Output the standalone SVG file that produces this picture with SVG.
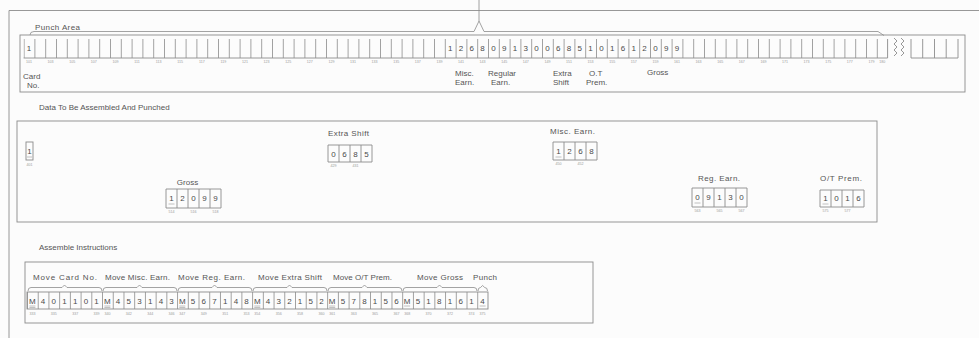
<svg xmlns="http://www.w3.org/2000/svg" width="979" height="338" viewBox="0 0 979 338">
<style>
.ln{fill:none;stroke:#8c8c8c;stroke-width:0.9}
.lt{fill:none;stroke:#a8a8a8;stroke-width:0.7}
.t{font-family:"Liberation Sans",Arial,sans-serif;fill:#555;font-size:8px}
.d{font-family:"Liberation Sans",Arial,sans-serif;fill:#4a4a4a;font-size:8px;text-anchor:middle}
.s{font-family:"Liberation Sans",Arial,sans-serif;fill:#9a9a9a;font-size:3.6px;text-anchor:middle}
.br{fill:none;stroke:#8c8c8c;stroke-width:0.8}
</style>
<defs>
<pattern id="pc" patternUnits="userSpaceOnUse" x="23.6" y="39" width="10.8" height="19">
<line x1="0.4" y1="0" x2="0.4" y2="19" stroke="#8c8c8c" stroke-width="0.9"/>
</pattern>
<pattern id="ic" patternUnits="userSpaceOnUse" x="27" y="292" width="10.72" height="17">
<line x1="0.4" y1="0" x2="0.4" y2="17" stroke="#8c8c8c" stroke-width="0.9"/>
</pattern>
</defs>
<rect width="979" height="338" fill="#fcfcfc"/>

<g id="frame">
<path class="ln" d="M9,10.5 H979 M9,10.5 V338"/>
</g>

<g id="punch-area">
<text class="t" x="35" y="30" textLength="45">Punch Area</text>
<rect class="ln" x="20" y="35" width="945" height="57"/>
<rect x="23.6" y="39" width="864" height="19" fill="url(#pc)"/>
<path class="ln" d="M887.6,39 V58 M23.6,58 H887.6"/>
<path class="ln" d="M894,38 l3,3 l-3,3 l3,3 l-3,3 l3,3 l-3,3 M901,38 l3,3 l-3,3 l3,3 l-3,3 l3,3 l-3,3"/>
<path class="ln" d="M911,39 V58 H958 V39 M922.7,39 V58 M934.5,39 V58 M946.2,39 V58"/>
<text class="d" x="29" y="51">1</text>
<text class="d" x="450.2 461 471.8 482.6 493.4 504.2 515 525.8 536.6 547.4 558.2 569 579.8 590.6 601.4 612.2 623 633.8 644.6 655.4 666.2 677" y="51">1268091300685101612099</text>
<text class="s" y="63"><tspan x="29">101</tspan><tspan x="50.6">103</tspan><tspan x="72.2">105</tspan><tspan x="93.8">107</tspan><tspan x="115.4">109</tspan><tspan x="137">111</tspan><tspan x="158.6">113</tspan><tspan x="180.2">115</tspan><tspan x="201.8">117</tspan><tspan x="223.4">119</tspan><tspan x="245">121</tspan><tspan x="266.6">123</tspan><tspan x="288.2">125</tspan><tspan x="309.8">127</tspan><tspan x="331.4">129</tspan><tspan x="353">131</tspan><tspan x="374.6">133</tspan><tspan x="396.2">135</tspan><tspan x="417.8">137</tspan><tspan x="439.4">139</tspan><tspan x="461">141</tspan><tspan x="482.6">143</tspan><tspan x="504.2">145</tspan><tspan x="525.8">147</tspan><tspan x="547.4">149</tspan><tspan x="569">151</tspan><tspan x="590.6">153</tspan><tspan x="612.2">155</tspan><tspan x="633.8">157</tspan><tspan x="655.4">159</tspan><tspan x="677">161</tspan><tspan x="698.6">163</tspan><tspan x="720.2">165</tspan><tspan x="741.8">167</tspan><tspan x="763.4">169</tspan><tspan x="785">171</tspan><tspan x="806.6">173</tspan><tspan x="828.2">175</tspan><tspan x="849.8">177</tspan><tspan x="871.4">179</tspan><tspan x="882.2">180</tspan></text>
<text class="t" x="23" y="79" font-size="7">Card</text>
<text class="t" x="27" y="88" font-size="7">No.</text>
<text class="t" x="455" y="76" font-size="7">Misc.</text>
<text class="t" x="455" y="85" font-size="7">Earn.</text>
<text class="t" x="488" y="76" font-size="7">Regular</text>
<text class="t" x="491" y="85" font-size="7">Earn.</text>
<text class="t" x="553" y="76" font-size="7">Extra</text>
<text class="t" x="553" y="85" font-size="7">Shift</text>
<text class="t" x="589" y="76" font-size="7">O.T</text>
<text class="t" x="586" y="85" font-size="7">Prem.</text>
<text class="t" x="647" y="75" font-size="7">Gross</text>
</g>

<g id="data-section">
<text class="t" x="39" y="110" font-size="7">Data To Be Assembled And Punched</text>
<rect class="ln" x="17" y="121" width="860" height="101"/>
</g>

<g id="data-card-no">
<rect class="ln" x="26" y="142" width="7" height="18"/>
<text class="d" x="29.5" y="154">1</text>
<path class="lt" d="M27,157 H32"/>
<text class="s" x="29.5" y="166">401</text>
</g>

<g id="data-extra-shift">
<text class="t" x="328" y="136" textLength="41" font-size="7">Extra Shift</text>
<path class="ln" d="M328,145 H372 V162 H328 Z M339,145 V162 M350,145 V162 M361,145 V162"/>
<text class="d" x="333.5 344.5 355.5 366.5" y="157">0685</text>
<text class="s" y="167"><tspan x="333.5">429</tspan><tspan x="355.5">431</tspan></text>
</g>

<g id="data-misc-earn">
<text class="t" x="550" y="134" textLength="45" font-size="7">Misc. Earn.</text>
<path class="ln" d="M553,142 H597 V160 H553 Z M564,142 V160 M575,142 V160 M586,142 V160"/>
<text class="d" x="558.5 569.5 580.5 591.5" y="154">1268</text>
<path class="lt" d="M555.5,157 H561.5"/>
<text class="s" y="165"><tspan x="558.5">450</tspan><tspan x="580.5">452</tspan></text>
</g>

<g id="data-gross">
<text class="t" x="187.5" y="185" font-size="7" text-anchor="middle">Gross</text>
<path class="ln" d="M166,189 H221 V208 H166 Z M177,189 V208 M188,189 V208 M199,189 V208 M210,189 V208"/>
<text class="d" x="171.5 182.5 193.5 204.5 215.5" y="201">12099</text>
<path class="lt" d="M168.5,204 H174.5"/>
<text class="s" y="213"><tspan x="171.5">514</tspan><tspan x="193.5">516</tspan><tspan x="215.5">518</tspan></text>
</g>

<g id="data-reg-earn">
<text class="t" x="698" y="181" textLength="42" font-size="7">Reg. Earn.</text>
<path class="ln" d="M692,188 H747 V207 H692 Z M703,188 V207 M714,188 V207 M725,188 V207 M736,188 V207"/>
<text class="d" x="697.5 708.5 719.5 730.5 741.5" y="200">09130</text>
<path class="lt" d="M694.5,203 H700.5"/>
<text class="s" y="212"><tspan x="697.5">563</tspan><tspan x="719.5">565</tspan><tspan x="741.5">567</tspan></text>
</g>

<g id="data-ot-prem">
<text class="t" x="820" y="181" textLength="42" font-size="7">O/T Prem.</text>
<path class="ln" d="M820,190 H864 V207 H820 Z M831,190 V207 M842,190 V207 M853,190 V207"/>
<text class="d" x="825.5 836.5 847.5 858.5" y="201">1016</text>
<path class="lt" d="M822.5,204 H828.5"/>
<text class="s" y="212"><tspan x="825.5">575</tspan><tspan x="847.5">577</tspan></text>
</g>

<g id="instructions">
<text class="t" x="39" y="250" font-size="7">Assemble Instructions</text>
<rect class="ln" x="25" y="262" width="568" height="61"/>
<text class="t" x="33" y="280" textLength="64">Move Card No.</text>
<text class="t" x="105" y="280" textLength="65">Move Misc. Earn.</text>
<text class="t" x="178" y="280" textLength="67">Move Reg. Earn.</text>
<text class="t" x="258" y="280" textLength="64">Move Extra Shift</text>
<text class="t" x="333" y="280" textLength="59">Move O/T Prem.</text>
<text class="t" x="417" y="280" textLength="46">Move Gross</text>
<text class="t" x="473" y="280" textLength="24">Punch</text>
<rect x="27" y="292" width="461" height="17" fill="url(#ic)"/>
<rect class="ln" x="27" y="292" width="461" height="17"/>
<text class="d" x="32.4 43.1 53.8 64.5 75.2 85.9 96.6 107.4 118.1 128.8 139.5 150.2 160.9 171.6 182.3 193.1 203.8 214.5 225.2 235.9 246.6 257.3 268 278.7 289.4 300.1 310.8 321.5 332.2 343 353.7 364.4 375.1 385.8 396.5 407.2 417.9 428.6 439.3 450 460.7 471.4" y="303.5">M401101M453143M567148M432152M578156M518161</text>
<text class="d" x="482.6" y="303.5">4</text>
<path class="lt" d="M29.4,306 H35.4 M29.4,307.5 H35.4 M104.4,306 H110.4 M104.4,307.5 H110.4 M179.3,306 H185.3 M179.3,307.5 H185.3 M254.3,306 H260.3 M254.3,307.5 H260.3 M329.2,306 H335.2 M329.2,307.5 H335.2 M404.1,306 H410.1 M479.6,306 H485.6"/>
<text class="s" y="315"><tspan x="32.4">333</tspan><tspan x="53.8">335</tspan><tspan x="75.2">337</tspan><tspan x="96.6">339</tspan><tspan x="107.4">340</tspan><tspan x="128.8">342</tspan><tspan x="150.2">344</tspan><tspan x="171.6">346</tspan><tspan x="182.3">347</tspan><tspan x="203.8">349</tspan><tspan x="225.2">351</tspan><tspan x="246.6">353</tspan><tspan x="257.3">354</tspan><tspan x="278.7">356</tspan><tspan x="300.1">358</tspan><tspan x="321.5">360</tspan><tspan x="332.2">361</tspan><tspan x="353.7">363</tspan><tspan x="375.1">365</tspan><tspan x="396.5">367</tspan><tspan x="407.2">368</tspan><tspan x="428.6">370</tspan><tspan x="450">372</tspan><tspan x="471.4">374</tspan><tspan x="482.6">375</tspan></text>
</g>

<g id="connectors">
<path class="br" d="M479,0 V21 M30,35 Q30,31.5 34,31.5 H474 L479,21 L484,31.5 H878 L884,35.5"/>
<path class="br" d="M28,291 Q28,287.5 31,287.5 H62 L64.5,285 L67,287.5 H99 Q102,287.5 102,291"/>
<path class="br" d="M103,291 Q103,287.5 106,287.5 H137 L139.5,285 L142,287.5 H174 Q177,287.5 177,291"/>
<path class="br" d="M178,291 Q178,287.5 181,287.5 H212 L214.5,285 L217,287.5 H249 Q252,287.5 252,291"/>
<path class="br" d="M253,291 Q253,287.5 256,287.5 H287 L289.5,285 L292,287.5 H324 Q327,287.5 327,291"/>
<path class="br" d="M328,291 Q328,287.5 331,287.5 H362 L364.5,285 L367,287.5 H399 Q402,287.5 402,291"/>
<path class="br" d="M403,291 Q403,287.5 406,287.5 H437 L439.5,285 L442,287.5 H474 Q477,287.5 477,291"/>
<path class="br" d="M478,291 Q478,287.5 480.5,287.5 L482.6,285.5 L484.7,287.5 Q487.5,287.5 487.5,291"/>
</g>
</svg>
